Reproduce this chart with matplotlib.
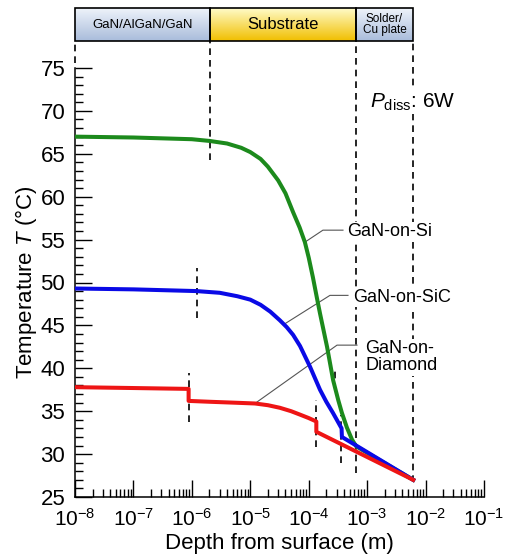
import matplotlib
matplotlib.use("Agg")
import matplotlib.pyplot as plt
import numpy as np
from matplotlib.ticker import FixedLocator, MultipleLocator, NullFormatter

plt.rcParams['font.family'] = ['Liberation Sans', 'DejaVu Sans']
plt.rcParams['mathtext.fontset'] = 'custom'
plt.rcParams['mathtext.rm'] = 'Liberation Sans'
plt.rcParams['mathtext.it'] = 'Liberation Sans:italic'

# depth (m) and temperature (degC)
si_x = [1e-8, 1e-7, 1e-6, 2e-6, 4e-6, 7e-6, 1e-5, 1.5e-5, 2e-5, 3e-5, 4e-5,
        5.4e-5, 7e-5, 8.6e-5, 1e-4, 1.18e-4, 1.4e-4, 1.56e-4, 2.06e-4, 2.62e-4,
        3.2e-4, 3.7e-4, 4.5e-4, 5.5e-4, 6.5e-4, 6.14e-3]
si_t = [67.0, 66.9, 66.7, 66.5, 66.2, 65.7, 65.2, 64.4, 63.5, 61.9, 60.4,
        58.2, 56.4, 54.7, 52.9, 50.6, 48.0, 46.4, 42.5, 38.6,
        36.3, 34.8, 33.1, 31.7, 30.9, 27.0]

sic_x = [1e-8, 1e-7, 1.2e-6, 3e-6, 6e-6, 1e-5, 1.5e-5, 2.2e-5, 3.2e-5, 4.2e-5,
         5.4e-5, 7.1e-5, 1.05e-4, 1.56e-4, 2e-4, 2.6e-4, 3.2e-4, 3.65e-4,
         3.7e-4, 6.14e-3]
sic_t = [49.3, 49.2, 49.0, 48.8, 48.4, 48.0, 47.4, 46.6, 45.6, 44.8,
         43.9, 42.6, 40.2, 37.5, 36.1, 34.8, 33.7, 33.0,
         32.0, 27.0]

dia_x = [1e-8, 1e-7, 8.8e-7, 8.8e-7, 2e-6, 5e-6, 1.2e-5, 2e-5, 3.2e-5, 5e-5,
         7.1e-5, 1e-4, 1.35e-4, 1.35e-4, 6.14e-3]
dia_t = [37.8, 37.7, 37.6, 36.2, 36.1, 36.0, 35.9, 35.7, 35.4, 35.0,
         34.6, 34.2, 33.8, 32.6, 27.0]

layers = ['GaN/AlGaN/GaN', 'Substrate', 'Solder/\nCu plate']
layer_edges = [1e-8, 2.05e-6, 6.5e-4, 6.14e-3]

fig = plt.figure(figsize=(5.10, 5.58), dpi=100)
ax = fig.add_axes([75/510, 61/558, 409/510, 429/558])

ax.plot(si_x, si_t, color='#1c8a1c', lw=2.9, zorder=3, solid_joinstyle='round')
ax.plot(sic_x, sic_t, color='#0a0ae6', lw=2.9, zorder=4, solid_joinstyle='round')
ax.plot(dia_x, dia_t, color='#ee1515', lw=2.9, zorder=5, solid_joinstyle='round')

ax.set_xscale('log')
ax.set_xlim(1e-8, 1e-1)
ax.set_ylim(25, 75)

# dashed guide lines: (x, t_from, t_to)
t_top = 78.15
guides = [(1e-8, 75.6, t_top), (2.05e-6, 64.3, t_top), (6.5e-4, 27.8, t_top),
          (6.14e-3, 26.8, t_top), (1.23e-6, 45.9, 51.7), (8.9e-7, 33.7, 39.5),
          (1.35e-4, 30.8, 36.3), (2.83e-4, 37.5, 40.2), (3.6e-4, 29.0, 34.6)]
for gx, g0, g1 in guides:
    ax.plot([gx, gx], [g0, g1], color='black', lw=1.2, ls=(0, (4, 3)),
            clip_on=False, zorder=2)

# callouts
box = dict(facecolor='white', edgecolor='none', pad=1)
ax.plot([3.86e-4, 1.75e-4, 8.6e-5], [56.1, 56.1, 54.7], color='#555555', lw=0.8, zorder=2)
ax.plot([4.7e-4, 2.31e-4, 3.93e-5], [48.5, 48.5, 45.2], color='#555555', lw=0.8, zorder=2)
ax.plot([6.7e-4, 3.05e-4, 1.2e-5], [42.7, 42.7, 35.9], color='#555555', lw=0.8, zorder=2)
ax.text(4.5e-4, 55.9, 'GaN-on-Si', fontsize=13, va='center', ha='left', bbox=box, zorder=6)
ax.text(5.7e-4, 48.3, 'GaN-on-SiC', fontsize=13, va='center', ha='left', bbox=box, zorder=6)
ax.text(9.2e-4, 41.3, 'GaN-on-\nDiamond', fontsize=13, va='center', ha='left',
        linespacing=1.0, bbox=box, zorder=6)
ax.text(1.12e-3, 71.0, r'$P_{\mathrm{diss}}$: 6W', fontsize=15, va='center', ha='left',
        bbox=box, zorder=6)

ax.spines['top'].set_visible(False)
ax.spines['right'].set_visible(False)
ax.spines['left'].set_linewidth(1.1)
ax.spines['bottom'].set_linewidth(1.1)

decades = 10.0 ** np.arange(-8, 0)
ax.xaxis.set_major_locator(FixedLocator(decades))
ax.xaxis.set_minor_locator(FixedLocator((decades[:-1, None] * np.arange(2, 10)).ravel()))
ax.xaxis.set_minor_formatter(NullFormatter())
ax.yaxis.set_major_locator(MultipleLocator(5))
ax.yaxis.set_minor_locator(MultipleLocator(1))
ax.tick_params(which='major', direction='in', length=12, width=1.0, labelsize=16, pad=7)
ax.tick_params(which='minor', direction='in', length=6, width=1.0)
ax.tick_params(axis='x', which='major', pad=8, labelsize=15)

ax.set_xlabel('Depth from surface (m)', fontsize=16, labelpad=2)
ax.set_ylabel('Temperature $T$ (°C)', fontsize=16, labelpad=1)

# layer header
hx = fig.add_axes([75/510, 1 - 41/558, 338/510, 33/558])
lo, hi = np.log10(layer_edges[0]), np.log10(layer_edges[-1])
hx.axis('off')
grads = [('#eef3fa', '#a9bcdb'), ('#fffbc8', '#f1bf00'), ('#eef3fa', '#a9bcdb')]
sizes = [9.5, 12, 8.5]
g = np.linspace(0, 1, 64)[:, None]
for i, name in enumerate(layers):
    a, b = np.log10(layer_edges[i]), np.log10(layer_edges[i + 1])
    c0 = np.array(matplotlib.colors.to_rgb(grads[i][0]))
    c1 = np.array(matplotlib.colors.to_rgb(grads[i][1]))
    img = c0[None, None, :] * (1 - g[:, :, None]) + c1[None, None, :] * g[:, :, None]
    hx.imshow(img, extent=(a, b, 0, 1), aspect='auto', origin='upper', zorder=1)
    hx.add_patch(plt.Rectangle((a, 0), b - a, 1, fill=False, ec='black', lw=1.2,
                               clip_on=False, zorder=2))
    hx.text((a + b) / 2, 0.5, name, ha='center', va='center', fontsize=sizes[i],
            linespacing=1.0, zorder=3)
hx.set_xlim(lo, hi)
hx.set_ylim(0, 1)

fig.savefig('out.png', dpi=100)
